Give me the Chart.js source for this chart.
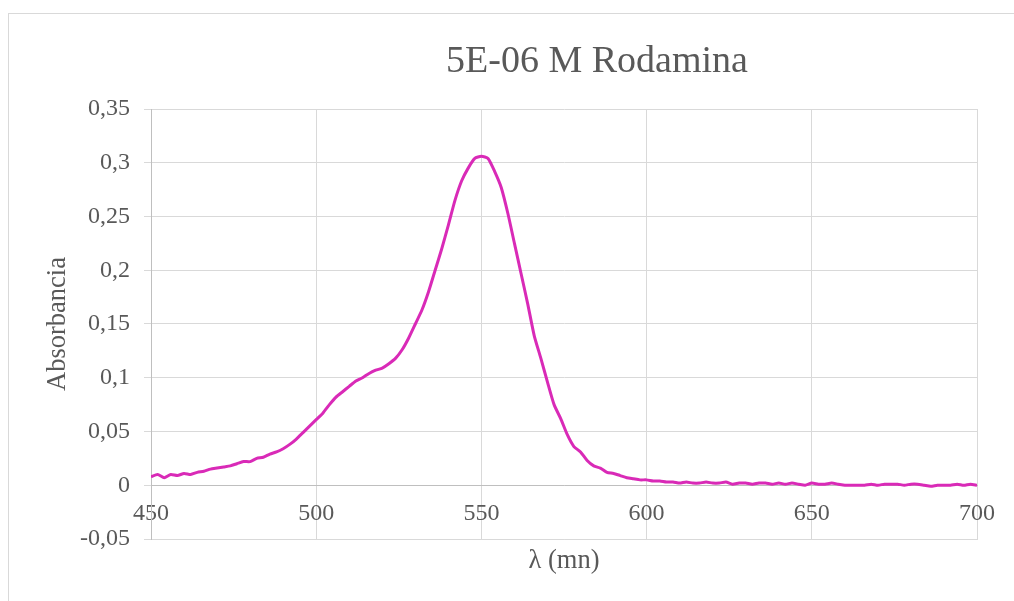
<!DOCTYPE html>
<html>
<head>
<meta charset="utf-8">
<script src="https://cdn.jsdelivr.net/npm/chart.js@4"></script>
<style>
	html, body { margin: 0; padding: 0; background: #fff; overflow: hidden; width: 1014px; height: 601px; }
	.frame { position: absolute; left: 8px; top: 13px; width: 1300px; height: 800px; border: 1px solid #d9d9d9; }
	.wrap { position: absolute; left: 0; top: 0; width: 1194px; height: 601px; }
</style>
</head>
<body>
<div class="frame"></div>
<div class="wrap"><canvas id="rodamina"></canvas></div>
<script>
// longitud de onda (nm), cada 2 nm
const wavelengths = [];
for (let l = 450; l <= 700; l += 2) wavelengths.push(l);

const absorbance = [
	0.008, 0.010, 0.007, 0.010, 0.009, 0.011, 0.010, 0.012, 0.013, 0.015,
	0.016, 0.017, 0.018, 0.020, 0.022, 0.022, 0.025, 0.026, 0.029, 0.031,
	0.034, 0.038, 0.043, 0.049, 0.055, 0.061, 0.067, 0.075, 0.082, 0.087,
	0.092, 0.097, 0.100, 0.104, 0.107, 0.109, 0.113, 0.118, 0.126, 0.137,
	0.150, 0.163, 0.180, 0.200, 0.220, 0.242, 0.265, 0.283, 0.295, 0.304,
	0.306, 0.304, 0.292, 0.277, 0.253, 0.225, 0.197, 0.169, 0.139, 0.118,
	0.096, 0.075, 0.062, 0.047, 0.036, 0.031, 0.023, 0.018, 0.016, 0.012,
	0.011, 0.009, 0.007, 0.006, 0.005, 0.005, 0.004, 0.004, 0.003, 0.003,
	0.002, 0.003, 0.002, 0.002, 0.003, 0.002, 0.002, 0.003, 0.001, 0.002,
	0.002, 0.001, 0.002, 0.002, 0.001, 0.002, 0.001, 0.002, 0.001, 0.000,
	0.002, 0.001, 0.001, 0.002, 0.001, 0.000, 0.000, 0.000, 0.000, 0.001,
	0.000, 0.001, 0.001, 0.001, 0.000, 0.001, 0.001, 0.000, -0.001, 0.000,
	0.000, 0.000, 0.001, 0.000, 0.001, 0.000
];

const xTicks = [450, 500, 550, 600, 650, 700];
const yTicks = [-0.05, 0, 0.05, 0.1, 0.15, 0.2, 0.25, 0.3, 0.35];

const points = wavelengths.map((l, i) => ({ x: l, y: absorbance[i] }));

const serif = "'Liberation Serif', 'Times New Roman', serif";
const textGray = '#595959';

new Chart('rodamina', {
	type: 'line',
	data: {
		datasets: [{
			data: points,
			borderColor: '#d92ab7',
			borderWidth: 3,
			pointRadius: 0,
			tension: 0.2,
			fill: false,
		}]
	},
	options: {
		responsive: true,
		maintainAspectRatio: false,
		animation: false,
		layout: { padding: 0 },
		plugins: {
			legend: { display: false },
			tooltip: { enabled: false },
			title: {
				display: true,
				text: '5E-06 M Rodamina',
				color: textGray,
				font: { family: serif, size: 38, weight: 'normal' },
				padding: { top: 39, bottom: 24.4 },
			}
		},
		scales: {
			x: {
				type: 'linear',
				min: 450,
				max: 700,
				position: 'bottom',
				afterBuildTicks: (s) => { s.ticks = xTicks.map(v => ({ value: v })); },
				afterFit: (s) => { s.height = 62; },
				ticks: { display: false },
				grid: { color: '#d9d9d9', drawTicks: false },
				border: { color: '#d9d9d9' },
				title: {
					display: true,
					text: 'λ (mn)',
					color: textGray,
					font: { family: serif, size: 26.5 },
					padding: { top: 0, bottom: 24 },
				}
			},
			x2: {
				type: 'linear',
				axis: 'x',
				min: 450,
				max: 700,
				position: { y: 0 },
				afterBuildTicks: (s) => { s.ticks = xTicks.map(v => ({ value: v })); },
				afterFit: (s) => { s.height = 0; },
				grid: { display: false, drawTicks: false },
				border: { display: true, color: '#bfbfbf' },
				ticks: {
					color: textGray,
					font: { family: serif, size: 24 },
					padding: 14,
					maxRotation: 0,
				}
			},
			y: {
				min: -0.05,
				max: 0.35,
				afterBuildTicks: (s) => { s.ticks = yTicks.map(v => ({ value: v })); },
				afterFit: (s) => { s.width = 151; },
				grid: { color: '#d9d9d9', tickLength: 7 },
				border: { color: '#bfbfbf' },
				ticks: {
					color: textGray,
					font: { family: serif, size: 24 },
					padding: 14,
					callback: (v) => String(Math.round(v * 100) / 100).replace('.', ','),
				},
				title: {
					display: true,
					text: 'Absorbancia',
					color: textGray,
					font: { family: serif, size: 26.5 },
					padding: { top: 42, bottom: 0 },
				}
			},
			// espacio vacío a la derecha del área de trazado
			yRight: {
				position: 'right',
				afterFit: (s) => { s.width = 217; },
				ticks: { display: false },
				grid: { display: false },
				border: { display: false },
			}
		}
	}
});
</script>
</body>
</html>
